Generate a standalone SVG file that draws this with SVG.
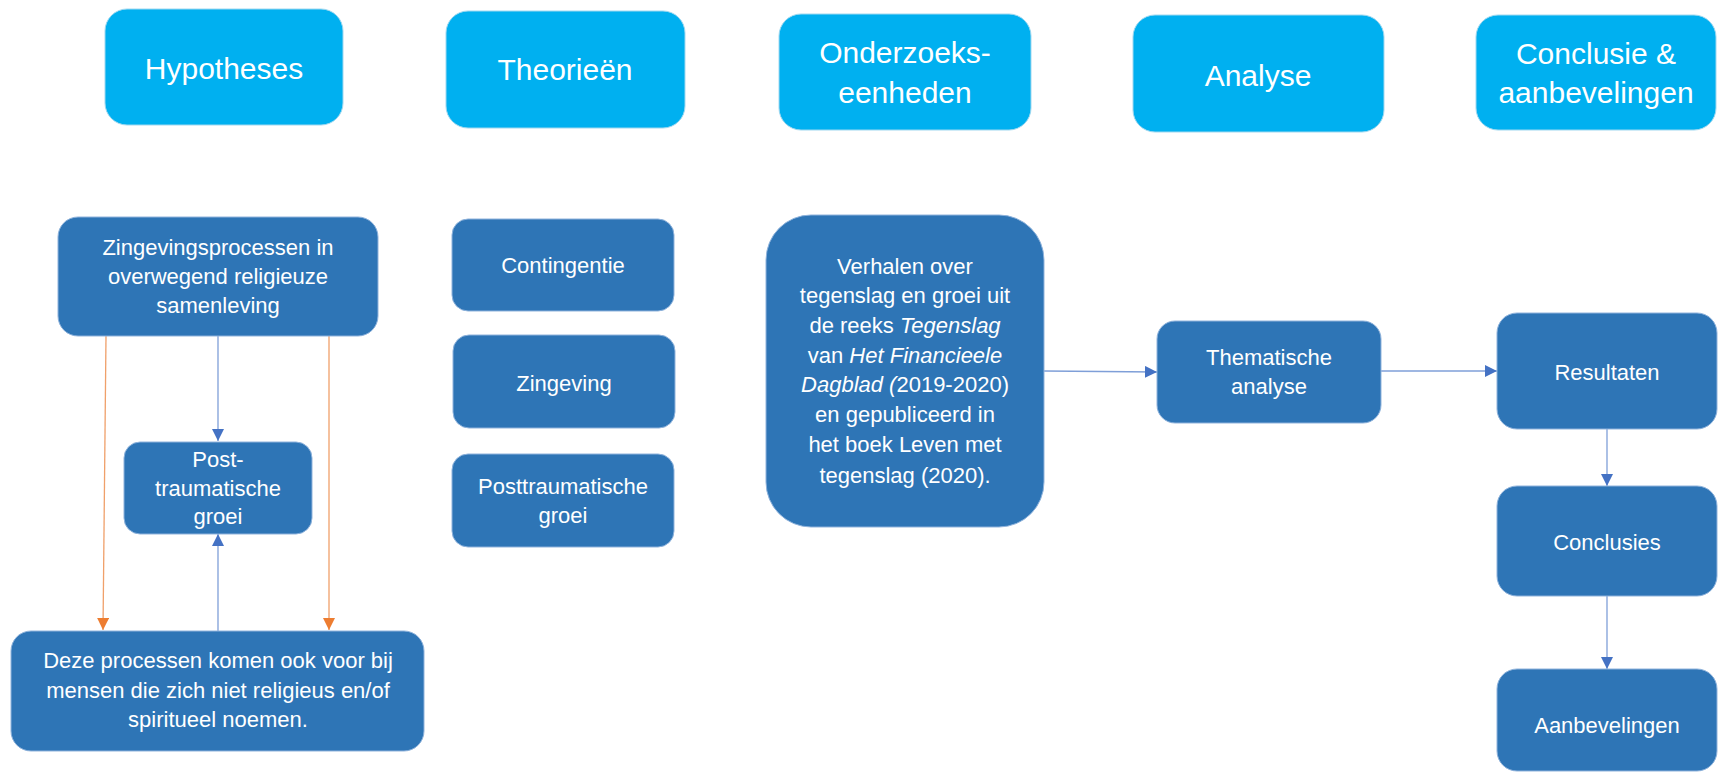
<svg xmlns="http://www.w3.org/2000/svg" width="1719" height="773" viewBox="0 0 1719 773">
<defs>
<style>
.hdr{fill:#00B0F0;stroke:#9fd8f0;stroke-width:1}
.node{fill:#2E75B6;stroke:#8fb3dc;stroke-width:1}
.ht{font-family:"Liberation Sans",Arial,sans-serif;font-size:30px;fill:#fff;text-anchor:middle}
.nt{font-family:"Liberation Sans",Arial,sans-serif;font-size:22px;fill:#fff;text-anchor:middle}
.cb{fill:none;stroke:#7f9fd8;stroke-width:1.3}
.co{fill:none;stroke:#f0a06a;stroke-width:1.3}
</style>
<marker id="ab" markerUnits="userSpaceOnUse" markerWidth="13" markerHeight="13" refX="12" refY="6" orient="auto">
<path d="M0,0 L12,6 L0,12 z" fill="#4472C4"/>
</marker>
<marker id="ao" markerUnits="userSpaceOnUse" markerWidth="13" markerHeight="13" refX="12" refY="6" orient="auto">
<path d="M0,0 L12,6 L0,12 z" fill="#ED7D31"/>
</marker>
</defs>
<rect width="1719" height="773" fill="#fff"/>

<g id="h-hypotheses"><rect class="hdr" x="105" y="9" width="238" height="116" rx="22"/>
<text class="ht" x="224" y="79">Hypotheses</text></g>
<g id="h-theorieen"><rect class="hdr" x="446" y="11" width="239" height="117" rx="22"/>
<text class="ht" x="565" y="80">Theorieën</text></g>
<g id="h-onderzoek"><rect class="hdr" x="779" y="14" width="252" height="116" rx="22"/>
<text class="ht" x="905" y="63">Onderzoeks-</text><text class="ht" x="905" y="103">eenheden</text></g>
<g id="h-analyse"><rect class="hdr" x="1133" y="15" width="251" height="117" rx="22"/>
<text class="ht" x="1258" y="86">Analyse</text></g>
<g id="h-conclusie"><rect class="hdr" x="1476" y="15" width="240" height="115" rx="22"/>
<text class="ht" x="1596" y="64">Conclusie &amp;</text><text class="ht" x="1596" y="103">aanbevelingen</text></g>

<g id="connectors">
<line class="co" x1="106" y1="336" x2="103" y2="630" marker-end="url(#ao)"/>
<line class="co" x1="329" y1="336" x2="329" y2="630" marker-end="url(#ao)"/>
<line class="cb" x1="218" y1="336" x2="218" y2="441" marker-end="url(#ab)"/>
<line class="cb" x1="218" y1="631" x2="218" y2="534" marker-end="url(#ab)"/>
<line class="cb" x1="1044" y1="371" x2="1157" y2="372" marker-end="url(#ab)"/>
<line class="cb" x1="1381" y1="371" x2="1497" y2="371" marker-end="url(#ab)"/>
<line class="cb" x1="1607" y1="429" x2="1607" y2="486" marker-end="url(#ab)"/>
<line class="cb" x1="1607" y1="596" x2="1607" y2="669" marker-end="url(#ab)"/>
</g>

<g id="n-zingevingsprocessen"><rect class="node" x="58" y="217" width="320" height="119" rx="20"/>
<text class="nt" x="218" y="255">Zingevingsprocessen in</text>
<text class="nt" x="218" y="284">overwegend religieuze</text>
<text class="nt" x="218" y="313">samenleving</text></g>
<g id="n-post"><rect class="node" x="124" y="442" width="188" height="92" rx="16"/>
<text class="nt" x="218" y="467">Post-</text>
<text class="nt" x="218" y="496">traumatische</text>
<text class="nt" x="218" y="524">groei</text></g>
<g id="n-deze"><rect class="node" x="11" y="631" width="413" height="120" rx="20"/>
<text class="nt" x="218" y="668">Deze processen komen ook voor bij</text>
<text class="nt" x="218" y="698">mensen die zich niet religieus en/of</text>
<text class="nt" x="218" y="727">spiritueel noemen.</text></g>

<g id="n-contingentie"><rect class="node" x="452" y="219" width="222" height="92" rx="16"/>
<text class="nt" x="563" y="273">Contingentie</text></g>
<g id="n-zingeving"><rect class="node" x="453" y="335" width="222" height="93" rx="16"/>
<text class="nt" x="564" y="391">Zingeving</text></g>
<g id="n-ptg"><rect class="node" x="452" y="454" width="222" height="93" rx="16"/>
<text class="nt" x="563" y="494">Posttraumatische</text>
<text class="nt" x="563" y="523">groei</text></g>

<g id="n-verhalen"><rect class="node" x="766" y="215" width="278" height="312" rx="45"/>
<text class="nt" x="905" y="274">Verhalen over</text>
<text class="nt" x="905" y="303">tegenslag en groei uit</text>
<text class="nt" x="905" y="333">de reeks <tspan font-style="italic">Tegenslag</tspan></text>
<text class="nt" x="905" y="363">van <tspan font-style="italic">Het Financieele</tspan></text>
<text class="nt" x="905" y="392"><tspan font-style="italic">Dagblad (</tspan>2019-2020)</text>
<text class="nt" x="905" y="422">en gepubliceerd in</text>
<text class="nt" x="905" y="452">het boek Leven met</text>
<text class="nt" x="905" y="483">tegenslag (2020).</text></g>

<g id="n-thematische"><rect class="node" x="1157" y="321" width="224" height="102" rx="18"/>
<text class="nt" x="1269" y="365">Thematische</text>
<text class="nt" x="1269" y="394">analyse</text></g>

<g id="n-resultaten"><rect class="node" x="1497" y="313" width="220" height="116" rx="20"/>
<text class="nt" x="1607" y="380">Resultaten</text></g>
<g id="n-conclusies"><rect class="node" x="1497" y="486" width="220" height="110" rx="20"/>
<text class="nt" x="1607" y="550">Conclusies</text></g>
<g id="n-aanbevelingen"><rect class="node" x="1497" y="669" width="220" height="102" rx="20"/>
<text class="nt" x="1607" y="733">Aanbevelingen</text></g>
</svg>
